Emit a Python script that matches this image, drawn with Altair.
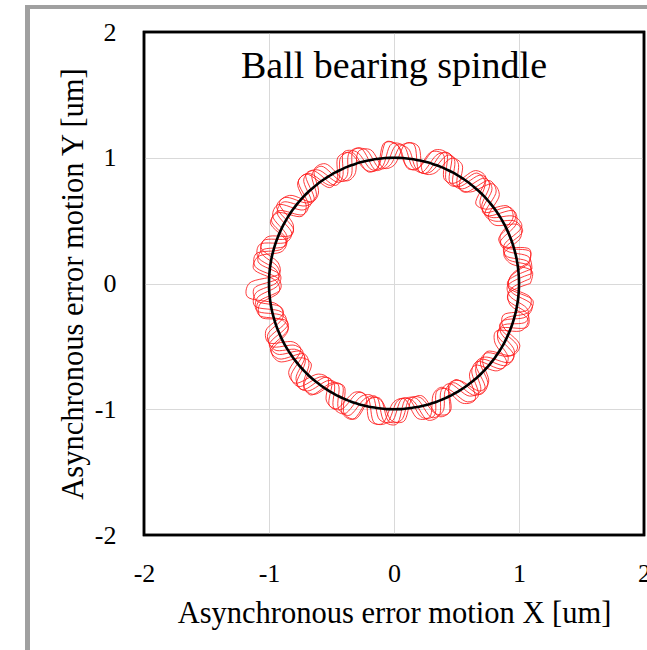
import numpy as np
import pandas as pd
import altair as alt

# Axis ticks (um)
tick_values = [-2, -1, 0, 1, 2]

# Radial deviation (um) from the 1 um reference circle for each revolution,
# sampled every 5 degrees from the revolution's own start angle.
rev_start_deg = [0, 4, 8, 2, 6, 9]
rev_1 = [0.09, 0.11, -0.06, -0.09, 0.08, 0.10, -0.07, -0.08, 0.10, 0.12, -0.05, -0.08,
         0.09, 0.10, -0.07, -0.09, 0.11, 0.12, -0.06, -0.08, 0.08, 0.09, -0.08, -0.10,
         0.10, 0.11, -0.06, -0.08, 0.09, 0.12, -0.07, -0.09, 0.08, 0.10, -0.06, -0.08,
         0.16, 0.18, -0.05, -0.08, 0.09, 0.11, -0.07, -0.09, 0.10, 0.12, -0.06, -0.08,
         0.08, 0.10, -0.08, -0.09, 0.11, 0.12, -0.06, -0.08, 0.09, 0.10, -0.07, -0.09,
         0.10, 0.13, -0.06, -0.08, 0.08, 0.10, -0.07, -0.10, 0.09, 0.11, -0.06, -0.08]
rev_2 = [0.10, 0.09, -0.08, -0.07, 0.12, 0.10, -0.06, -0.09, 0.09, 0.11, -0.07, -0.08,
         0.10, 0.12, -0.09, -0.07, 0.08, 0.10, -0.06, -0.09, 0.11, 0.10, -0.07, -0.08,
         0.09, 0.12, -0.08, -0.06, 0.10, 0.09, -0.09, -0.08, 0.12, 0.11, -0.06, -0.07,
         0.11, 0.13, -0.07, -0.09, 0.10, 0.09, -0.06, -0.08, 0.09, 0.12, -0.08, -0.07,
         0.10, 0.11, -0.07, -0.09, 0.09, 0.10, -0.08, -0.06, 0.12, 0.11, -0.07, -0.09,
         0.08, 0.10, -0.06, -0.08, 0.11, 0.12, -0.08, -0.07, 0.10, 0.09, -0.07, -0.09]
rev_3 = [0.08, 0.12, -0.07, -0.09, 0.10, 0.11, -0.08, -0.06, 0.09, 0.10, -0.09, -0.08,
         0.12, 0.11, -0.06, -0.08, 0.09, 0.13, -0.07, -0.09, 0.10, 0.09, -0.06, -0.07,
         0.11, 0.12, -0.08, -0.09, 0.09, 0.10, -0.07, -0.06, 0.13, 0.12, -0.08, -0.09,
         0.10, 0.11, -0.06, -0.08, 0.12, 0.10, -0.09, -0.07, 0.08, 0.11, -0.07, -0.09,
         0.11, 0.13, -0.06, -0.08, 0.10, 0.09, -0.08, -0.07, 0.09, 0.12, -0.06, -0.09,
         0.12, 0.10, -0.07, -0.08, 0.09, 0.11, -0.09, -0.06, 0.10, 0.12, -0.08, -0.07]
rev_4 = [0.09, 0.10, -0.07, -0.08, 0.11, 0.09, -0.06, -0.09, 0.10, 0.12, -0.08, -0.07,
         0.09, 0.11, -0.07, -0.09, 0.12, 0.10, -0.06, -0.08, 0.09, 0.11, -0.08, -0.09,
         0.10, 0.09, -0.07, -0.06, 0.11, 0.12, -0.09, -0.08, 0.10, 0.09, -0.06, -0.08,
         0.12, 0.11, -0.08, -0.07, 0.09, 0.10, -0.07, -0.09, 0.11, 0.12, -0.06, -0.08,
         0.10, 0.09, -0.09, -0.07, 0.12, 0.11, -0.07, -0.08, 0.09, 0.10, -0.08, -0.06,
         0.11, 0.12, -0.07, -0.09, 0.10, 0.09, -0.06, -0.08, 0.12, 0.10, -0.08, -0.07]
rev_5 = [0.11, 0.10, -0.06, -0.09, 0.09, 0.12, -0.08, -0.07, 0.10, 0.11, -0.07, -0.08,
         0.12, 0.09, -0.09, -0.06, 0.10, 0.11, -0.07, -0.08, 0.09, 0.12, -0.06, -0.09,
         0.11, 0.10, -0.08, -0.07, 0.12, 0.11, -0.06, -0.08, 0.09, 0.10, -0.09, -0.07,
         0.10, 0.12, -0.07, -0.09, 0.11, 0.09, -0.08, -0.06, 0.12, 0.10, -0.07, -0.08,
         0.09, 0.11, -0.06, -0.09, 0.10, 0.12, -0.08, -0.07, 0.11, 0.09, -0.06, -0.08,
         0.10, 0.11, -0.09, -0.07, 0.12, 0.10, -0.07, -0.08, 0.09, 0.12, -0.06, -0.09]
rev_6 = [0.10, 0.12, -0.08, -0.07, 0.09, 0.10, -0.06, -0.09, 0.12, 0.11, -0.07, -0.08,
         0.10, 0.09, -0.08, -0.06, 0.11, 0.12, -0.09, -0.07, 0.10, 0.10, -0.06, -0.08,
         0.12, 0.11, -0.07, -0.09, 0.09, 0.10, -0.08, -0.07, 0.11, 0.13, -0.06, -0.08,
         0.09, 0.10, -0.09, -0.07, 0.12, 0.11, -0.06, -0.08, 0.10, 0.09, -0.07, -0.09,
         0.11, 0.12, -0.08, -0.06, 0.09, 0.10, -0.07, -0.08, 0.12, 0.11, -0.09, -0.07,
         0.10, 0.09, -0.06, -0.08, 0.11, 0.12, -0.07, -0.09, 0.09, 0.10, -0.08, -0.06]
revolutions = [rev_1, rev_2, rev_3, rev_4, rev_5, rev_6]
step_deg = 5

ref_radius = 1.0
plot_title = "Ball bearing spindle"

# Build the trace table (polar -> cartesian); each revolution is closed
# by returning to its first sample.
rows = []
for k, (start, devs) in enumerate(zip(rev_start_deg, revolutions)):
    closed = list(devs) + [devs[0]]
    for i, d in enumerate(closed):
        a = np.deg2rad(start + step_deg * i)
        r = ref_radius + d
        rows.append({"rev": k + 1, "idx": i, "x": r * np.cos(a), "y": r * np.sin(a)})
traces = pd.DataFrame(rows)

ang = np.deg2rad(np.arange(0, 360, 2))
circle = pd.DataFrame({"idx": np.arange(len(ang)),
                       "x": ref_radius * np.cos(ang),
                       "y": ref_radius * np.sin(ang)})

FONT = "Liberation Serif"
W, H = 500, 503

x_enc = alt.X("x:Q", scale=alt.Scale(domain=[-2, 2], nice=False),
              axis=alt.Axis(values=tick_values, labelExpr="'' + datum.value",
                            title="Asynchronous error motion X [um]",
                            titleX=W / 2, titleY=87, titleBaseline="alphabetic",
                            labelPadding=25, labelFlush=False, labelOverlap=False))
y_enc = alt.Y("y:Q", scale=alt.Scale(domain=[-2, 2], nice=False),
              axis=alt.Axis(values=tick_values, labelExpr="'' + datum.value",
                            title="Asynchronous error motion Y [um]",
                            titleX=-62, titleY=H / 2, titleBaseline="alphabetic",
                            titleAngle=-90, titleAlign="center",
                            labelPadding=28, labelFlush=False, labelOverlap=False))

red = alt.Chart(traces).mark_line(
    interpolate="catmull-rom", color="#ff1a1a", strokeWidth=1, opacity=0.85
).encode(x=x_enc, y=y_enc, detail="rev:N", order="idx:Q")

ref = alt.Chart(circle).mark_line(
    interpolate="cardinal-closed", color="black", strokeWidth=2.6
).encode(x="x:Q", y="y:Q", order="idx:Q")

one = pd.DataFrame({"label": [plot_title]})
title_text = alt.Chart(one).mark_text(
    font=FONT, fontSize=38, color="black", align="center", baseline="alphabetic"
).encode(x=alt.value(W / 2), y=alt.value(46), text="label:N")

# Black plot border drawn above the gridlines
border = alt.Chart(one).mark_rect(filled=False, stroke="black", strokeWidth=2.5).encode(
    x=alt.value(0), x2=alt.value(W), y=alt.value(0), y2=alt.value(H))

# Grey outer frame (left and top edges)
frame_left = alt.Chart(one).mark_rule(color="#a0a0a0", strokeWidth=5).encode(
    x=alt.value(-116.5), y=alt.value(-27), y2=alt.value(700))
frame_top = alt.Chart(one).mark_rule(color="#a0a0a0", strokeWidth=4).encode(
    x=alt.value(-119), x2=alt.value(520), y=alt.value(-25))

chart = alt.layer(red, ref, title_text, border, frame_left, frame_top).properties(
    width=W, height=H,
    background="white",
    autosize=alt.AutoSizeParams(type="none"),
    padding={"left": 144, "top": 32, "right": 3, "bottom": 115},
).configure_view(
    stroke="black", strokeWidth=2.5
).configure_axis(
    grid=True, gridColor="#d9d9d9", gridWidth=1, domain=False, ticks=False,
    labelFont=FONT, labelFontSize=26, labelColor="black",
    titleFont=FONT, titleFontSize=30.5, titleFontWeight="normal", titleColor="black",
)

chart.save("out.html", embed_options={"renderer": "svg", "actions": False})
